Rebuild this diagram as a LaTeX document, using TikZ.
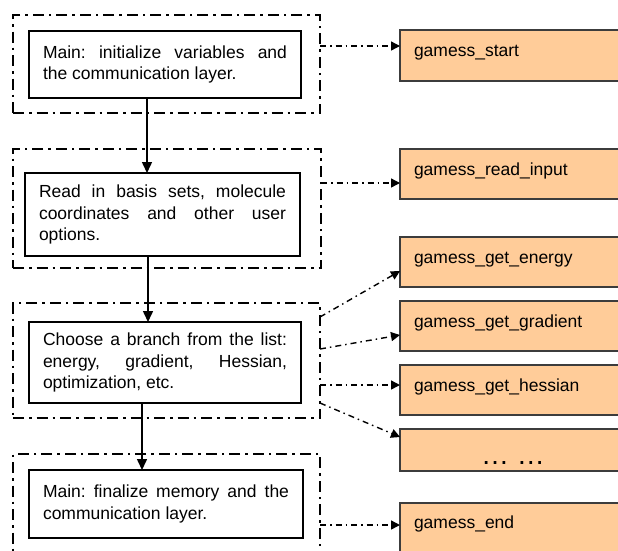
\documentclass[tikz,border=0pt]{standalone}
\usepackage{fontspec}
\setmainfont{Liberation Sans}
\usetikzlibrary{arrows.meta,calc}
\definecolor{peach}{RGB}{255,204,153}
\definecolor{boxline}{RGB}{60,60,60}
\frenchspacing
\begin{document}
\begin{tikzpicture}[x=1pt,y=-1pt,
  grp/.style={draw=black, line width=2.2pt, dash pattern=on 11pt off 5pt on 2.5pt off 5pt, rectangle, anchor=north west, inner sep=0pt, outer sep=0pt},
  stepbox/.style={draw=black, line width=1.3pt, rectangle, anchor=north west, align=justify, inner xsep=14pt, inner ysep=0pt, outer sep=0pt, font=\fontsize{17.5}{21.5}\selectfont},
  func/.style={draw=boxline, line width=1.3pt, fill=peach, rectangle, anchor=north west, minimum width=230pt, text width=202pt, inner xsep=14pt, inner ysep=0pt, outer sep=0pt, align=left, text height=12pt, text depth=10pt, font=\fontsize{17.5}{20}\selectfont},
  flow/.style={line width=1.5pt, -{Triangle[length=11pt,width=10pt]}},
  call/.style={line width=1.4pt, dash pattern=on 6pt off 4pt on 1.5pt off 4pt, -{Triangle[length=9pt,width=9pt]}}
]
\useasboundingbox (0,0) rectangle (618,550);
\clip (0,0) rectangle (618,550);

% groups
\node[grp, minimum width=307pt, minimum height=98pt] (g1) at (13,15) {};
\node[grp, minimum width=308pt, minimum height=119pt] (g2) at (13,149) {};
\node[grp, minimum width=307pt, minimum height=115pt] (g3) at (13,303) {};
\node[grp, minimum width=307pt, minimum height=130pt] (g4) at (13,454) {};

% steps
\node[stepbox, text width=244pt, minimum height=67pt] (b1) at (29,31)
  {Main: initialize variables and\linebreak the communication layer.};
\node[stepbox, text width=247pt, minimum height=83pt] (b2) at (25,173)
  {Read in basis sets, molecule\linebreak coordinates and other user\linebreak options.};
\node[stepbox, text width=244pt, minimum height=81pt] (b3) at (29,322)
  {Choose a branch from the list:\linebreak energy, gradient, Hessian,\linebreak optimization, etc.};
\node[stepbox, text width=246pt, minimum height=68pt] (b4) at (29,470)
  {Main: finalize memory and the\linebreak communication layer.};

% functions
\node[func, minimum height=51pt] (s1) at (400,30) {gamess\_start};
\node[func, minimum height=50pt] (s2) at (400,149) {gamess\_read\_input};
\node[func, minimum height=50pt] (s3) at (400,237) {gamess\_get\_energy};
\node[func, minimum height=50pt] (s4) at (400,301) {gamess\_get\_gradient};
\node[func, minimum height=50pt] (s5) at (400,365) {gamess\_get\_hessian};
\node[func, minimum height=42pt] (s6) at (400,429) {};
\node[font=\fontsize{28}{28}\selectfont, anchor=base, inner sep=0pt] (dots) at (513,464) {… …};
\node[func, minimum height=70pt, text depth=32pt] (s7) at (400,503) {gamess\_end};

% flow
\draw[flow] (b1.south -| 147,0) -- (b2.north -| 147,0);
\draw[flow] (b2.south -| 148,0) -- (b3.north -| 148,0);
\draw[flow] (b3.south -| 142,0) -- (b4.north -| 142,0);

% calls
\draw[call] (g1.east |- 0,46) -- (s1.west |- 0,46);
\draw[call] (g2.east |- 0,183) -- (s2.west |- 0,183);
\draw[call] (g3.east |- 0,317) -- (s3.west |- 0,271);
\draw[call] (g3.east |- 0,349) -- (s4.west |- 0,335);
\draw[call] (g3.east |- 0,385) -- (s5.west |- 0,385);
\draw[call] (g3.east |- 0,403) -- (s6.west |- 0,437);
\draw[call] (g4.east |- 0,525) -- (s7.west |- 0,525);
\end{tikzpicture}
\end{document}
